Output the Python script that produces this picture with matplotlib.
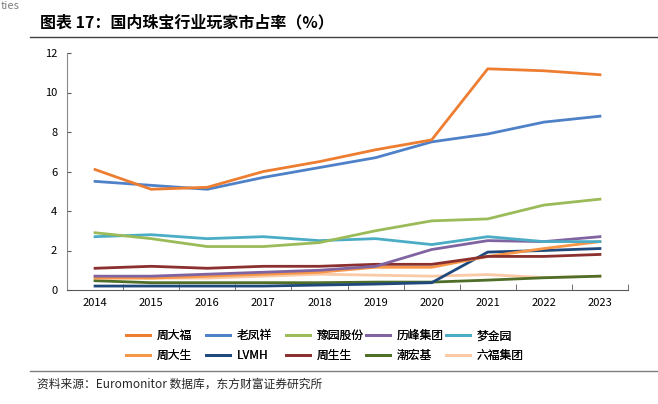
import numpy as np
import matplotlib
matplotlib.use("Agg")
import matplotlib.pyplot as plt
from matplotlib.lines import Line2D

plt.rcParams['font.family'] = ['Noto Sans CJK SC', 'DejaVu Sans']

years = ['2014', '2015', '2016', '2017', '2018', '2019', '2020', '2021', '2022', '2023']

zhoudafu = [6.1, 5.1, 5.2, 6.0, 6.5, 7.1, 7.6, 11.2, 11.1, 10.9]
laofengxiang = [5.5, 5.3, 5.1, 5.7, 6.2, 6.7, 7.5, 7.9, 8.5, 8.8]
yuyuan = [2.9, 2.6, 2.2, 2.2, 2.4, 3.0, 3.5, 3.6, 4.3, 4.6]
lifeng = [0.7, 0.7, 0.8, 0.9, 1.0, 1.2, 2.05, 2.5, 2.45, 2.7]
mengjinyuan = [2.7, 2.8, 2.6, 2.7, 2.5, 2.6, 2.3, 2.7, 2.45, 2.45]
zhoudasheng = [0.6, 0.6, 0.7, 0.8, 0.9, 1.15, 1.15, 1.7, 2.1, 2.45]
lvmh = [0.2, 0.2, 0.2, 0.2, 0.25, 0.3, 0.37, 1.92, 2.0, 2.1]
zhoushengsheng = [1.1, 1.2, 1.1, 1.2, 1.2, 1.3, 1.3, 1.7, 1.7, 1.8]
chaohongji = [0.47, 0.37, 0.37, 0.37, 0.37, 0.4, 0.4, 0.5, 0.62, 0.7]
liufu = [0.7, 0.6, 0.6, 0.7, 0.8, 0.75, 0.7, 0.78, 0.63, 0.7]

names = ['周大福', '老凤祥', '豫园股份', '历峰集团', '梦金园',
         '周大生', 'LVMH', '周生生', '潮宏基', '六福集团']
series = [zhoudafu, laofengxiang, yuyuan, lifeng, mengjinyuan,
          zhoudasheng, lvmh, zhoushengsheng, chaohongji, liufu]
colors = ['#ED7D31', '#4F81C8', '#9BBB59', '#8064A2', '#4BACC6',
          '#F79646', '#1F497D', '#8B2F2F', '#4F6F28', '#FAC9A5']

fig = plt.figure(figsize=(6.58, 4.04), dpi=100)
ax = fig.add_axes([67/658, 1-290/404, (628-67)/658, (290-53)/404])

x = np.arange(len(years))
# draw back-to-front so the big series sit on top like the original
order = [9, 8, 6, 5, 7, 3, 4, 2, 1, 0]
for i in order:
    ax.plot(x, series[i], color=colors[i], lw=2, zorder=2+order.index(i))

ax.set_xlim(-0.5, len(years)-0.5)
ax.set_ylim(0, 12)
ax.set_yticks(range(0, 13, 2))
ax.set_xticks(x)
ax.set_xticklabels(years)
ax.set_xticks(np.arange(-0.5, len(years), 1), minor=True)
ax.tick_params(axis='x', which='major', length=0, labelsize=8, pad=6)
ax.tick_params(axis='x', which='minor', direction='in', length=4, color='#595959')
ax.tick_params(axis='y', direction='in', length=3, labelsize=8, pad=7, color='#595959')
for s in ['top', 'right']:
    ax.spines[s].set_visible(False)
ax.spines['left'].set_color('#898989')
ax.spines['bottom'].set_color('#595959')

# legend: 5 fixed-width columns, 2 rows each
for c in range(5):
    hs = [Line2D([], [], color=colors[c], lw=2), Line2D([], [], color=colors[c+5], lw=2)]
    lg = fig.legend(hs, [names[c], names[c+5]], loc='upper left',
                    bbox_to_anchor=((118 + 80*c)/658, 1-321/404),
                    frameon=False, fontsize=8.5, handlelength=2.0, handletextpad=0.6,
                    labelspacing=0.6, borderpad=0.2)
    fig.add_artist(lg)

# header and footer
fig.text(40/658, 1-22/404, '图表 17：国内珠宝行业玩家市占率（%）', fontsize=11.5,
         fontweight='bold', va='center', ha='left')
fig.text(1/658, 1-6/404, 'ties', fontsize=8, color='#7f7f7f', va='center', ha='left')
fig.add_artist(Line2D([30/658, 1], [1-37/404, 1-37/404], color='#404040', lw=1))
fig.add_artist(Line2D([30/658, 1], [1-371/404, 1-371/404], color='#7f7f7f', lw=1))
fig.text(37/658, 1-384/404, '资料来源：Euromonitor 数据库，东方财富证券研究所', fontsize=8.5,
         va='center', ha='left', color='#262626')

fig.savefig('out.png', dpi=100)
